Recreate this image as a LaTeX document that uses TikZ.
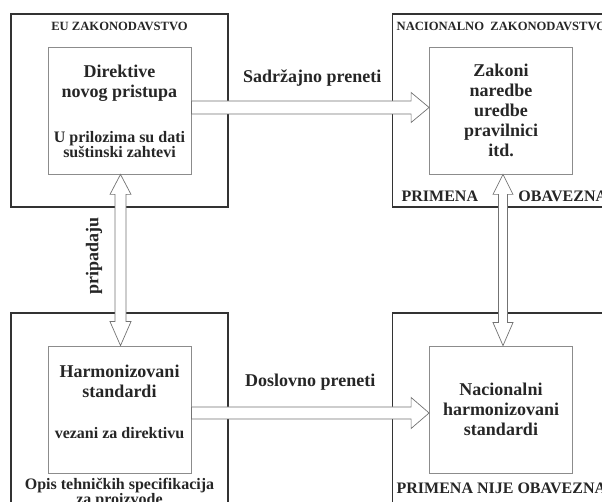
\documentclass[tikz,border=0pt]{standalone}
\usepackage{fontspec}
\setmainfont{Liberation Serif}
\usetikzlibrary{positioning,calc}
\tikzset{
  outer/.style={
    draw=black!80, line width=1.1pt, inner sep=0pt,
    minimum width=217pt, minimum height=193pt
  },
  inner/.style={
    draw=black!45, line width=0.8pt, inner sep=0pt, align=center,
    minimum width=143pt, minimum height=127pt,
    font=\fontsize{18}{20}\selectfont\bfseries, text=black!85
  },
  blk/.style={draw=black!55, fill=white, line width=0.7pt, line join=miter},
  big/.style={font=\fontsize{18}{20}\selectfont\bfseries, align=center, inner sep=0pt, text=black!85},
  sub/.style={font=\fontsize{16}{15}\selectfont\bfseries, align=center, inner sep=0pt, text=black!85},
  tag/.style={font=\fontsize{12.6}{14}\selectfont\bfseries, inner sep=0pt, text=black!85},
  stat/.style={font=\fontsize{16}{12.5}\selectfont\bfseries, align=center, inner sep=0pt, text=black!85}
}

\begin{document}
\begin{tikzpicture}[x=1pt, y=1pt]
  \useasboundingbox (0,0) rectangle (602,502);
  \clip (0,0) rectangle (602,502);

  % --- outer frames -----------------------------------------------------
  \node[outer] (eu)  at (119.5,391.5) {};
  \node[outer] (nac) at (501,391.5) {};
  \node[outer] (eub) at (119.5,92.5) {};
  \node[outer] (nab) at (501,92.5) {};

  % --- inner boxes ------------------------------------------------------
  \node[inner] (dir) at (eu.center) {};
  \node[inner] (zak) at (nac.center) {Zakoni\\naredbe\\uredbe\\pravilnici\\itd.};
  \node[inner] (har) at (eub.center) {};
  \node[inner] (nhs) at (nab.center) {Nacionalni\\harmonizovani\\standardi};

  % --- block arrows -----------------------------------------------------
  \draw[blk] let \p1=(dir.east), \p2=(zak.west) in
    (\x1,\y1+9.5pt) -- (\x2-18pt,\y1+9.5pt) -- (\x2-18pt,\y1+18pt) -- (\x2,\y1+3pt)
    -- (\x2-18pt,\y1-12pt) -- (\x2-18pt,\y1-3.5pt) -- (\x1,\y1-3.5pt) -- cycle;
  \draw[blk] let \p1=(har.east), \p2=(nhs.west) in
    (\x1,\y1+2.5pt) -- (\x2-18pt,\y1+2.5pt) -- (\x2-18pt,\y1+12pt) -- (\x2,\y1-3.5pt)
    -- (\x2-18pt,\y1-19pt) -- (\x2-18pt,\y1-9.5pt) -- (\x1,\y1-9.5pt) -- cycle;
  \draw[blk] let \p1=(dir.south), \p2=(har.north) in
    (\x1+1pt,\y1) -- (\x1+11.5pt,\y1-20pt) -- (\x1+6.5pt,\y1-20pt) -- (\x1+6.5pt,\y2+24pt)
    -- (\x1+11.5pt,\y2+24pt) -- (\x1+1pt,\y2) -- (\x1-9.5pt,\y2+24pt) -- (\x1-4.5pt,\y2+24pt)
    -- (\x1-4.5pt,\y1-20pt) -- (\x1-9.5pt,\y1-20pt) -- cycle;
  \draw[blk] let \p1=(zak.south), \p2=(nhs.north) in
    (\x1+2pt,\y1) -- (\x1+12pt,\y1-20pt) -- (\x1+6.5pt,\y1-20pt) -- (\x1+6.5pt,\y2+23pt)
    -- (\x1+12pt,\y2+23pt) -- (\x1+2pt,\y2) -- (\x1-8pt,\y2+23pt) -- (\x1-2.5pt,\y2+23pt)
    -- (\x1-2.5pt,\y1-20pt) -- (\x1-8pt,\y1-20pt) -- cycle;

  % --- inner texts ------------------------------------------------------
  \node[big, below=18.5pt of dir.north] (dirt) {Direktive\\novog pristupa};
  \node[sub, above=16pt of dir.south] (dirs) {U prilozima su dati\\suštinski zahtevi};
  \node[big, below=19pt of har.north] (hart) {Harmonizovani\\standardi};
  \node[sub, above=35pt of har.south] (hars) {vezani za direktivu};

  % --- frame labels -----------------------------------------------------
  \node[tag, below=9pt of eu.north] (eut) {EU ZAKONODAVSTVO};
  \node[tag, below right=9pt and 4.5pt of nac.north west] (nact) {NACIONALNO\ \ ZAKONODAVSTVO};
  \node[stat, above right=6pt and 9.5pt of nac.south west] (prim) {PRIMENA};
  \node[stat, right=40pt of prim] (obav) {OBAVEZNA};
  \node[stat, anchor=base west] (pnoa) at ($(nab.west |- nhs.south)+(4.5pt,-20pt)$) {PRIMENA NIJE OBAVEZNA};
  \node[stat, below=4.5pt of har.south] (opis) {Opis tehničkih specifikacija\\za proizvode};

  % --- arrow labels -----------------------------------------------------
  \node[big, anchor=base] (sadr) at ($(dir.east)!.5!(zak.west)+(2pt,27.5pt)$) {Sadržajno preneti};
  \node[big, anchor=base] (dosl) at ($(har.east)!.5!(nhs.west)+(0pt,22.5pt)$) {Doslovno preneti};
  \node[big, rotate=90] (prip) at ($(dir.south)!.5!(har.north)+(-25.5pt,4pt)$) {pripadaju};
\end{tikzpicture}
\end{document}
